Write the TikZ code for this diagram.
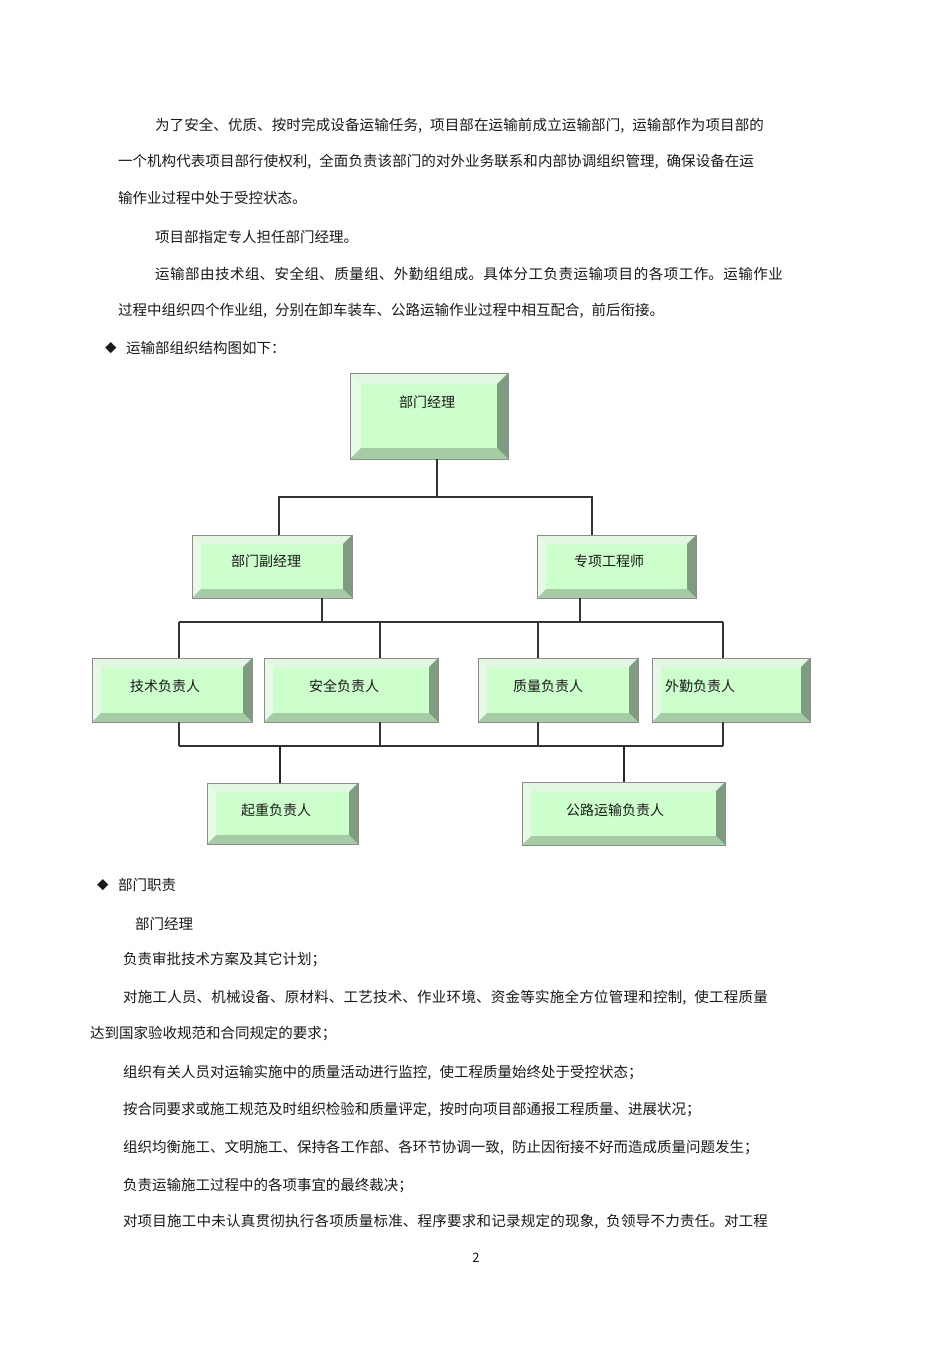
\documentclass[tikz,border=0pt]{standalone}
\usepackage{fontspec}
\setmainfont{Noto Sans CJK SC}
\usetikzlibrary{calc,fit}
\XeTeXlinebreaklocale "zh"
\XeTeXlinebreakskip=0pt plus 1pt minus 0.3pt
\definecolor{face}{RGB}{204,255,204}
\definecolor{bvt}{RGB}{226,247,226}
\definecolor{bvl}{RGB}{230,250,230}
\definecolor{bvr}{RGB}{126,156,128}
\definecolor{bvb}{RGB}{166,204,166}
\definecolor{bxline}{RGB}{140,140,140}
\definecolor{ink}{RGB}{25,25,25}
\newcommand\cm{,\hspace{0.55em}}
\newcommand\jl[2]{\parbox{#1pt}{\parindent=0pt\parfillskip=0pt\rightskip=0pt\leftskip=0pt\relax #2\par}}
\newcommand\bbox[6]{%
 \node[fit={(#2,#3) (#4,#5)}, inner sep=0pt, outer sep=0pt, fill=face] (#1) {};
 \fill[bvt] (#1.north west) -- (#1.north east) -- ([shift={(-#6,#6)}]#1.north east) -- ([shift={(#6,#6)}]#1.north west) -- cycle;
 \fill[bvl] (#1.north west) -- ([shift={(#6,#6)}]#1.north west) -- ([shift={(#6,-#6)}]#1.south west) -- (#1.south west) -- cycle;
 \fill[bvr] (#1.north east) -- (#1.south east) -- ([shift={(-#6,-#6)}]#1.south east) -- ([shift={(-#6,#6)}]#1.north east) -- cycle;
 \fill[bvb] (#1.south west) -- ([shift={(#6,-#6)}]#1.south west) -- ([shift={(-#6,-#6)}]#1.south east) -- (#1.south east) -- cycle;
 \draw[bxline, line width=1pt] (#1.north west) rectangle (#1.south east);
}
\begin{document}
\begin{tikzpicture}[x=1pt,y=-1pt,
  txt/.style={inner sep=0pt, outer sep=0pt, anchor=west, text=ink, font=\fontsize{14.5}{17}\selectfont},
  lbl/.style={inner sep=0pt, outer sep=0pt, text=ink, font=\fontsize{14}{16}\selectfont},
  conn/.style={draw=black!80, line width=1.3pt},
  thick conn/.style={draw=black!85, line width=2pt}]
\useasboundingbox[fill=white] (0,0) rectangle (950,1345);

% ---- upper text ----
\node[txt] (p1) at (155,126) {\jl{609}{为了安全、优质、按时完成设备运输任务\cm 项目部在运输前成立运输部门\cm 运输部作为项目部的}};
\node[txt] (p2) at (118,162) {\jl{636}{一个机构代表项目部行使权利\cm 全面负责该部门的对外业务联系和内部协调组织管理\cm 确保设备在运}};
\node[txt] (p3) at (118,198) {输作业过程中处于受控状态。};
\node[txt] (p4) at (155,237) {项目部指定专人担任部门经理。};
\node[txt] (p5) at (155,274) {\jl{628}{运输部由技术组、安全组、质量组、外勤组组成。具体分工负责运输项目的各项工作。运输作业}};
\node[txt] (p6) at (118,311) {过程中组织四个作业组\cm 分别在卸车装车、公路运输作业过程中相互配合\cm 前后衔接。};
\node[txt, font=\fontsize{11.5}{12}\selectfont] (dm1) at (105,348) {◆};
\node[txt] (p7) at (126,348) {运输部组织结构图如下：};

% ---- boxes ----
\bbox{m}{350}{373}{508}{459}{11}
\bbox{d1}{192}{535}{352}{598}{9}
\bbox{d2}{537}{535}{696}{598}{9}
\bbox{c1}{92}{658}{252}{722}{9}
\bbox{c2}{264}{658}{438}{722}{9}
\bbox{c3}{478}{658}{638}{722}{9}
\bbox{c4}{652}{658}{810}{722}{9}
\bbox{e1}{207}{783}{358}{844}{9}
\bbox{e2}{522}{782}{725}{845}{9}

\node[lbl] (tm) at (427,402) {部门经理};
\node[lbl] (td1) at (266,561) {部门副经理};
\node[lbl] (td2) at (609,561) {专项工程师};
\node[lbl] (tc1) at (165,686) {技术负责人};
\node[lbl] (tc2) at (344,686) {安全负责人};
\node[lbl] (tc3) at (548,686) {质量负责人};
\node[lbl] (tc4) at (700,686) {外勤负责人};
\node[lbl] (te1) at (276,810) {起重负责人};
\node[lbl] (te2) at (615,810) {公路运输负责人};

% ---- connectors ----
\coordinate (j0) at (437,497);
\coordinate (b1L) at (279,497);
\coordinate (b1R) at (592,497);
\draw[conn] (j0 |- m.south) -- (j0);
\draw[conn] (b1L |- d1.north) -- (b1L) -- (b1R) -- (b1R |- d2.north);

\coordinate (j1) at (322,622);
\coordinate (j2) at (580,622);
\coordinate (k1) at (179,622);
\coordinate (k2) at (380,622);
\coordinate (k3) at (538,622);
\coordinate (k4) at (723,622);
\draw[conn] (j1 |- d1.south) -- (j1);
\draw[conn] (j2 |- d2.south) -- (j2);
\draw[conn] (k1) -- (k4);
\draw[conn] (k1) -- (k1 |- c1.north);
\draw[conn] (k2) -- (k2 |- c2.north);
\draw[conn] (k3) -- (k3 |- c3.north);
\draw[conn] (k4) -- (k4 |- c4.north);

\coordinate (l1) at (179,746);
\coordinate (l2) at (380,746);
\coordinate (l3) at (538,746);
\coordinate (l4) at (723,746);
\coordinate (g1) at (280,746);
\coordinate (g2) at (624,746);
\draw[conn] (l1 |- c1.south) -- (l1);
\draw[conn] (l2 |- c2.south) -- (l2);
\draw[conn] (l3 |- c3.south) -- (l3);
\draw[conn] (l4 |- c4.south) -- (l4);
\draw[conn] (l1) -- (l4);
\draw[thick conn] (g1) -- (g1 |- e1.north);
\draw[thick conn] (g2) -- (g2 |- e2.north);

% ---- lower text ----
\node[txt, font=\fontsize{11.5}{12}\selectfont] (dm2) at (97,885) {◆};
\node[txt] (q0) at (118,885) {部门职责};
\node[txt] (q1) at (135,924) {部门经理};
\node[txt] (q2) at (123,960) {负责审批技术方案及其它计划；};
\node[txt] (q3) at (123,998) {\jl{645}{对施工人员、机械设备、原材料、工艺技术、作业环境、资金等实施全方位管理和控制\cm 使工程质量}};
\node[txt] (q4) at (90,1034) {达到国家验收规范和合同规定的要求；};
\node[txt] (q5) at (123,1073) {组织有关人员对运输实施中的质量活动进行监控\cm 使工程质量始终处于受控状态；};
\node[txt] (q6) at (123,1110) {按合同要求或施工规范及时组织检验和质量评定\cm 按时向项目部通报工程质量、进展状况；};
\node[txt] (q7) at (123,1148) {组织均衡施工、文明施工、保持各工作部、各环节协调一致\cm 防止因衔接不好而造成质量问题发生；};
\node[txt] (q8) at (123,1186) {负责运输施工过程中的各项事宜的最终裁决；};
\node[txt] (q9) at (123,1222) {\jl{645}{对项目施工中未认真贯彻执行各项质量标准、程序要求和记录规定的现象\cm 负领导不力责任。对工程}};
\node[lbl, font=\fontsize{13}{15}\selectfont] (pg) at (476,1258) {2};
\end{tikzpicture}
\end{document}
